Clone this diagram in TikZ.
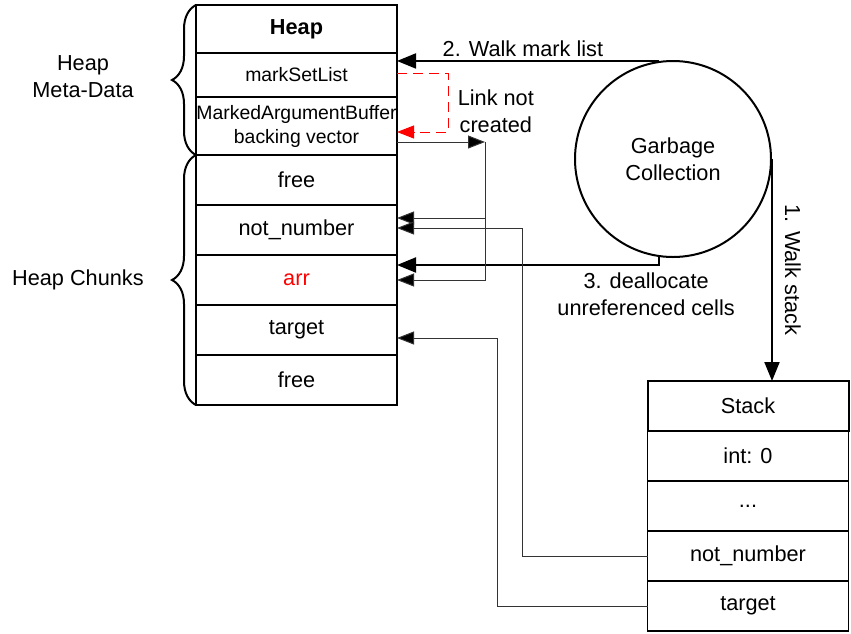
\documentclass[tikz,border=0pt]{standalone}
\usepackage{fontspec}
\setmainfont{Liberation Sans}
\usetikzlibrary{
arrows.meta,
positioning,
decorations.pathreplacing
}

\begin{document}
\begin{tikzpicture}[
    x=1pt, y=-1pt,
    >={Triangle[length=17pt,width=13pt,fill=black]},
    cell/.style={draw, line width=1.2pt, minimum width=201pt, minimum height=50pt,
      inner sep=0pt, outer sep=0pt, font=\fontsize{21.7}{26}\selectfont},
    head/.style={cell, line width=2pt, font=\fontsize{21.7}{26}\selectfont\bfseries},
    small/.style={font=\fontsize{19.4}{24}\selectfont, align=center},
    lbl/.style={font=\fontsize{21.7}{27}\selectfont, align=center, text=black},
    walk/.style={->, line width=2pt, >={Triangle[length=19pt,width=15pt]}},
    ref/.style={->, line width=1pt, draw=black!80},
    chunk/.style={decorate, decoration={brace, amplitude=24pt}, line width=2pt}
  ]
  \useasboundingbox (0,0) rectangle (851,633);

  % heap column
  \node[head, minimum height=48pt] (hdr) at (296.5,29) {Heap};
  \node[cell, small, minimum height=44pt, below=0pt of hdr] (msl) {markSetList};
  \node[cell, small, minimum height=58pt, below=0pt of msl] (mab) {MarkedArgumentBuffer\\backing vector};
  \node[cell, below=0pt of mab] (free1) {free};
  \node[cell, below=0pt of free1] (nn) {not\_number};
  \node[cell, text=red, below=0pt of nn] (arr) {arr};
  \node[cell, below=0pt of arr] (tgt) {target};
  \node[cell, below=0pt of tgt] (free2) {free};

  \draw[chunk] (mab.south west) -- node[midway, left=58pt, yshift=3pt, lbl] {Heap\\Meta-Data} (hdr.north west);
  \draw[chunk] (free2.south west) -- node[midway, left=48pt, lbl] {Heap Chunks} (free1.north west);

  % stack column
  \node[head, font=\fontsize{21.7}{26}\selectfont] (stk) at (748,406) {Stack};
  \node[cell, below=0pt of stk] (int) {int: 0};
  \node[cell, below=0pt of int] (dots) {...};
  \node[cell, below=0pt of dots] (snn) {not\_number};
  \node[cell, below=0pt of snn] (stgt) {target};

  \node[draw, circle, line width=2pt, minimum size=196pt, lbl] (gc) at (673,159) {Garbage\\Collection};

  \draw[walk] (gc.east) -- node[midway, anchor=south, rotate=-90, inner sep=12pt, lbl] {1. Walk stack} (gc.east |- stk.north);
  \draw[walk] (gc.98) -- node[pos=0.52, above, lbl] {2. Walk mark list} (gc.98 -| msl.east);
  \draw[walk] (gc.-98) |- node[pos=0.525, below, yshift=-3pt, lbl] {3. deallocate\\unreferenced cells} ([yshift=15pt]arr.east);

  \draw[->, red, line width=1pt, dash pattern=on 10pt off 6pt, >={Triangle[length=17pt,width=13pt]}]
    ([yshift=2pt]msl.east) -- ++(51,0) |- node[pos=0.32, right=6pt, lbl] {Link not\\created} ([yshift=-6pt]mab.east);

  \coordinate (bv) at (485,142);
  \draw[ref] (mab.east |- bv) -- (bv);
  \draw[ref] (bv) |- ([yshift=12pt]nn.east);
  \draw[ref] (bv) |- (arr.east);
  \draw[ref] (snn.west) -- ++(-125,0) |- ([yshift=2pt]nn.east);
  \draw[ref] (stgt.west) -- ++(-150,0) |- ([yshift=-8pt]tgt.east);
\end{tikzpicture}
\end{document}
